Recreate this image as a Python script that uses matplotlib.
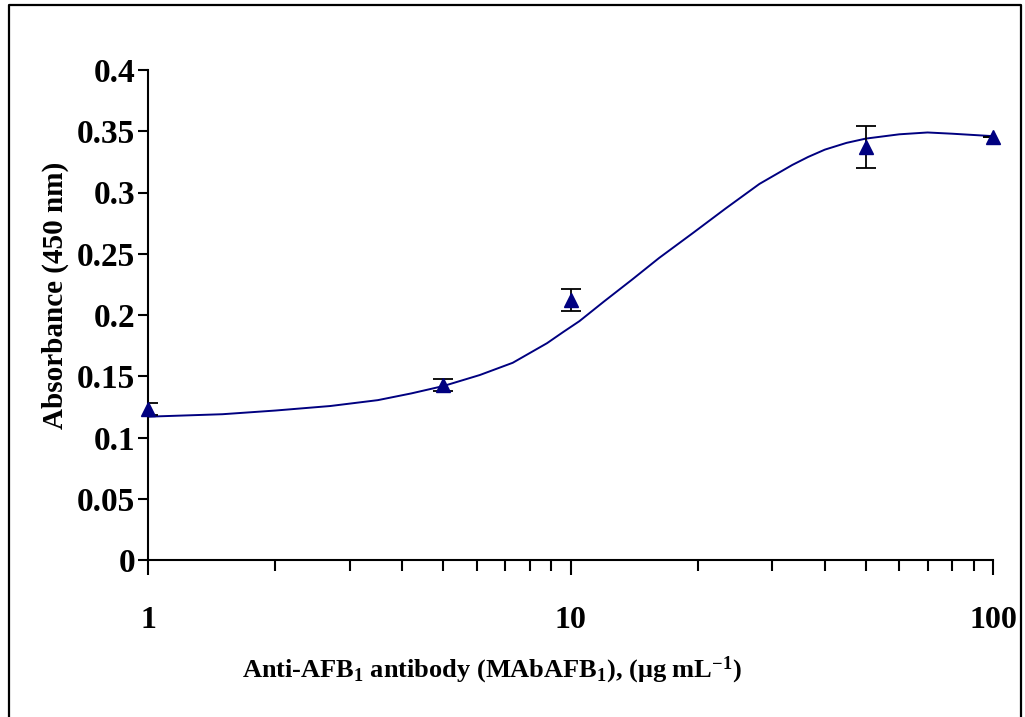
import matplotlib
matplotlib.use('Agg')
import matplotlib.pyplot as plt
from matplotlib.lines import Line2D
from matplotlib.ticker import LogLocator, NullFormatter, FixedLocator, FixedFormatter

plt.rcParams['font.family'] = ['Liberation Serif', 'DejaVu Serif']
plt.rcParams['font.weight'] = 'bold'
plt.rcParams['mathtext.fontset'] = 'custom'
plt.rcParams['mathtext.rm'] = 'Liberation Serif:bold'
plt.rcParams['mathtext.bf'] = 'Liberation Serif:bold'
plt.rcParams['mathtext.it'] = 'Liberation Serif:bold'

# measured points (concentration, absorbance, error)
conc = [1, 5, 10, 50, 100]
absorb = [0.123, 0.143, 0.212, 0.337, 0.345]
err = [0.005, 0.005, 0.009, 0.017, 0.0]

# fitted curve
fit_x = [1, 1.5, 2, 2.7, 3.5, 4.2, 5, 6.1, 7.3, 8.8, 9.6, 10.5, 12, 14,
         16.2, 19.5, 23.3, 28, 33.5, 36.5, 40, 45, 50, 60, 70, 80, 100]
fit_y = [0.117, 0.119, 0.122, 0.1257, 0.1305, 0.136, 0.142, 0.151, 0.161,
         0.177, 0.186, 0.195, 0.211, 0.229, 0.2465, 0.267, 0.287, 0.307,
         0.3225, 0.329, 0.335, 0.3405, 0.344, 0.3475, 0.349, 0.348, 0.346]

y_ticks = [0, 0.05, 0.1, 0.15, 0.2, 0.25, 0.3, 0.35, 0.4]
y_labels = ['0', '0.05', '0.1', '0.15', '0.2', '0.25', '0.3', '0.35', '0.4']

fig = plt.figure(figsize=(10.25, 7.17), dpi=100)
ax = fig.add_axes([148/1025, 1-560/717, 845/1025, 490/717])

ax.plot(fit_x, fit_y, color='#000080', lw=1.4, zorder=2)
ax.errorbar(conc, absorb, yerr=err, fmt='none', ecolor='black',
            elinewidth=1.3, capsize=7, capthick=1.3, zorder=3)
ax.plot(conc, absorb, '^', color='#000080', markersize=10, zorder=4,
        clip_on=False)

ax.set_xscale('log')
ax.set_xlim(1, 100)
ax.set_ylim(0, 0.4)

ax.yaxis.set_major_locator(FixedLocator(y_ticks))
ax.yaxis.set_major_formatter(FixedFormatter(y_labels))
ax.xaxis.set_major_locator(FixedLocator([1, 10, 100]))
ax.xaxis.set_major_formatter(FixedFormatter(['1', '10', '100']))
ax.xaxis.set_minor_locator(LogLocator(base=10, subs=range(2, 10)))
ax.xaxis.set_minor_formatter(NullFormatter())

for s in ['top', 'right']:
    ax.spines[s].set_visible(False)
for s in ['left', 'bottom']:
    ax.spines[s].set_linewidth(1.5)

ax.tick_params(axis='y', which='major', direction='out', length=7, width=1.5,
               labelsize=24, pad=2)
ax.tick_params(axis='x', which='major', direction='out', length=11, width=1.5,
               labelsize=23, pad=22)
ax.tick_params(axis='x', which='minor', direction='out', length=8, width=1.5)

fig.text(55/1025, 1-295/717, 'Absorbance (450 nm)', rotation=90,
         ha='center', va='center', fontsize=21, fontweight='bold')
fig.text(492/1025, 1-670/717,
         r'Anti-AFB$_1$ antibody (MAbAFB$_1$), ($\mu$g mL$^{-1}$)',
         ha='center', va='center', fontsize=19, fontweight='bold')

# outer frame
fig.add_artist(Line2D([9/1025, 9/1025, 1021/1025, 1021/1025],
                      [0, 1-5/717, 1-5/717, 0], transform=fig.transFigure,
                      color='black', lw=1.6))

fig.savefig('out.png', dpi=100)
